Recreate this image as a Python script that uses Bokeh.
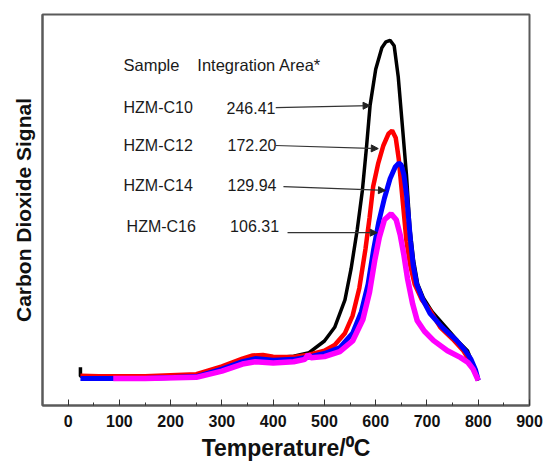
from bokeh.plotting import figure
from bokeh.models import Range1d, FixedTicker, Label, Arrow, NormalHead
from bokeh.embed import file_html
from bokeh.resources import INLINE

# ---- data ----
temp_c10 = [24, 24, 27, 60, 150, 250, 300, 340, 365, 400, 440, 470, 500, 520, 540, 552, 564, 574,
            582, 589, 600, 612, 620, 628, 636, 644, 653, 660, 667, 674, 682, 693, 710, 740, 760, 779, 790, 800]
sig_c10 = [9.8, 7.5, 7.4, 7.3, 7.3, 7.6, 9.5, 11.5, 12.3, 12.2, 12.6, 13.5, 16.5, 20, 27, 35, 45, 55,
           66, 76.7, 86, 91.5, 93, 93.4, 92, 84, 70, 59, 45, 37, 31, 27.5, 24, 19.5, 16.5, 14, 10.5, 6.4]

temp_c12 = [24, 60, 150, 250, 300, 340, 360, 380, 400, 440, 470, 500, 520, 540, 555, 568, 580, 588,
            595, 605, 615, 625, 632, 639, 645, 650, 655, 660, 667, 676, 690, 705, 726, 750, 771, 786, 800]
sig_c12 = [7.6, 7.5, 7.5, 8, 10, 12, 12.8, 12.9, 12.5, 12.4, 13, 14, 15.5, 18.5, 23, 30, 40, 48,
           56, 62, 66.5, 69.5, 70.3, 68.5, 63, 56, 49, 42, 36, 31, 27, 24.5, 20, 17, 14, 10.8, 6.4]

temp_c14 = [24, 150, 250, 300, 340, 365, 400, 440, 470, 500, 530, 555, 572, 585, 596, 606, 617, 628,
            638, 645, 650, 655, 660, 664, 668, 673, 680, 692, 706, 730, 758, 775, 786, 795, 800]
sig_c14 = [6.9, 6.9, 7.4, 9.3, 11.2, 12, 11.6, 11.8, 12.4, 13.3, 14.8, 18.5, 24, 31, 40, 47, 53, 58,
           61, 62, 61.5, 59, 54, 48, 42, 36, 31, 27, 23.5, 20, 16.6, 14, 11.8, 9, 6.4]

temp_c16 = [88, 150, 250, 300, 340, 365, 400, 440, 462, 468, 474, 500, 530, 555, 575, 588, 598, 607,
            617, 630, 640, 648, 655, 662, 672, 681, 695, 713, 740, 765, 780, 790, 800]
sig_c16 = [6.9, 6.9, 7.2, 8.8, 10.6, 11.2, 10.9, 11.2, 11.8, 13, 12.2, 12.5, 13.8, 16.5, 22, 29, 37, 43,
           47.5, 49, 47.5, 43.5, 38.5, 32.5, 26, 21.7, 19, 16.6, 14, 12.3, 11, 9.3, 6.4]

samples = ["HZM-C10", "HZM-C12", "HZM-C14", "HZM-C16"]
areas = ["246.41", "172.20", "129.94", "106.31"]
x_ticks = list(range(0, 901, 100))

FONT = "Liberation Sans"

p = figure(width=544, height=465, x_range=Range1d(-50, 900), y_range=Range1d(0, 100),
           output_backend="svg", toolbar_location=None,
           min_border_left=42, min_border_right=15, min_border_top=14, min_border_bottom=60)
p.grid.visible = False
p.outline_line_color = "#5a5a5a"
p.outline_line_width = 2
p.background_fill_color = "white"

# x axis
p.xaxis.ticker = FixedTicker(ticks=x_ticks, minor_ticks=[t + 50 for t in x_ticks[:-1]])
p.xaxis.axis_line_color = "#5a5a5a"
p.xaxis.axis_line_width = 2
p.xaxis.major_tick_in = 6
p.xaxis.major_tick_out = 0
p.xaxis.minor_tick_in = 3
p.xaxis.minor_tick_out = 0
p.xaxis.major_tick_line_color = "#333333"
p.xaxis.minor_tick_line_color = "#333333"
p.xaxis.major_label_text_font = FONT
p.xaxis.major_label_text_font_style = "bold"
p.xaxis.major_label_text_font_size = "16px"
p.xaxis.major_label_text_color = "#111111"
p.xaxis.major_label_standoff = 9
p.xaxis.axis_label = "Temperature/\u2070C"
p.xaxis.axis_label_text_font = FONT
p.xaxis.axis_label_text_font_style = "bold"
p.xaxis.axis_label_text_font_size = "23px"
p.xaxis.axis_label_text_color = "#111111"
p.xaxis.axis_label_standoff = 5

# y axis
p.yaxis.ticker = FixedTicker(ticks=[])
p.yaxis.axis_line_color = "#5a5a5a"
p.yaxis.axis_line_width = 2
p.yaxis.major_tick_out = 0
p.yaxis.minor_tick_out = 0
p.yaxis.major_label_standoff = 0
p.yaxis.axis_label = "Carbon Dioxide Signal"
p.yaxis.axis_label_text_font = FONT
p.yaxis.axis_label_text_font_style = "bold"
p.yaxis.axis_label_text_font_size = "21px"
p.yaxis.axis_label_text_color = "#111111"
p.yaxis.axis_label_standoff = 8

# curves
p.line(temp_c10, sig_c10, line_color="#000000", line_width=3.5)
p.line(temp_c12, sig_c12, line_color="#ff0000", line_width=4.5)
p.line(temp_c14, sig_c14, line_color="#0000ff", line_width=5)
p.line(temp_c16, sig_c16, line_color="#ff00ff", line_width=5.5)

# annotation table
def txt(x, y, s, size="16px"):
    p.add_layout(Label(x=x, y=y, text=s, text_font=FONT, text_font_size=size,
                       text_color="#1a1a1a", text_baseline="middle", text_align="left"))

txt(108, 87, "Sample", "16.5px")
txt(252, 87, "Integration Area*", "16.5px")

rows_y = [76.2, 66.5, 56.3, 45.8]
name_x = [108, 108, 108, 114]
area_x = [309, 311, 311, 316]
arrows = [(405, 76.2, 589, 76.7), (405, 66.5, 605, 65.7), (420, 56.0, 619, 55.0), (428, 44.2, 603, 44.2)]

for i in range(4):
    txt(name_x[i], rows_y[i], samples[i])
    txt(area_x[i], rows_y[i], areas[i])
    xs, ys, xe, ye = arrows[i]
    p.add_layout(Arrow(x_start=xs, y_start=ys, x_end=xe, y_end=ye, line_color="#333333", line_width=1.2,
                       end=NormalHead(size=7, fill_color="#222222", line_color="#222222")))

open("out.html", "w").write(file_html(p, INLINE))
